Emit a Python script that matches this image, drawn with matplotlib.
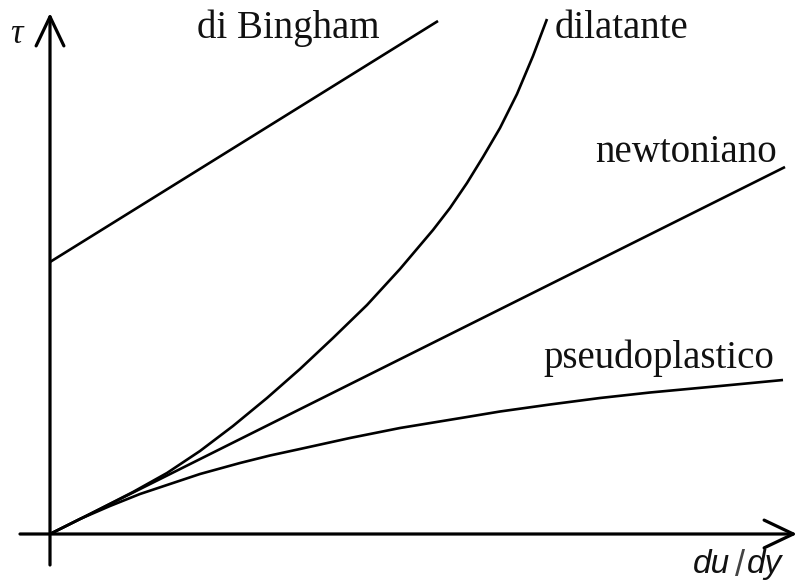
import matplotlib
matplotlib.use("Agg")
import matplotlib.pyplot as plt
from matplotlib.patches import FancyArrowPatch

# Shear stress tau versus shear rate du/dy for four fluid models
bingham_x = [0.0, 3.88]
bingham_y = [2.72, 5.13]

newton_x = [0.0, 7.35]
newton_y = [0.0, 3.67]

dilatant_x = [0.0, 0.40, 0.83, 1.17, 1.50, 1.83, 2.17, 2.50, 2.83, 3.17,
              3.50, 3.83, 4.00, 4.17, 4.33, 4.50, 4.67, 4.83, 4.97]
dilatant_y = [0.0, 0.20, 0.42, 0.61, 0.83, 1.08, 1.36, 1.65, 1.96, 2.29,
              2.65, 3.04, 3.26, 3.51, 3.77, 4.06, 4.40, 4.78, 5.15]

pseudo_x = [0.0, 0.30, 0.60, 0.90, 1.20, 1.50, 1.90, 2.20, 2.50, 3.00,
            3.50, 4.17, 4.50, 5.00, 5.50, 6.00, 6.70, 7.33]
pseudo_y = [0.0, 0.15, 0.28, 0.40, 0.50, 0.60, 0.71, 0.785, 0.85, 0.96,
            1.06, 1.17, 1.225, 1.295, 1.36, 1.415, 1.48, 1.54]

labels = ["di Bingham", "dilatante", "newtoniano", "pseudoplastico"]
label_pos = [(1.47, 4.96), (5.05, 4.96), (5.45, 3.72), (4.93, 1.66)]

fig = plt.figure(figsize=(8.01, 5.85), dpi=100)
ax = fig.add_axes([0, 0, 1, 1])
ax.set_xlim(-0.5, 7.51)
ax.set_ylim(-0.51, 5.34)
ax.axis("off")

lw = 1.9
for xs, ys in [(bingham_x, bingham_y), (newton_x, newton_y),
               (dilatant_x, dilatant_y), (pseudo_x, pseudo_y)]:
    ax.plot(xs, ys, color="black", lw=lw, solid_capstyle="butt",
            solid_joinstyle="round")

# axes with open arrow heads
style = "->,head_length=1.05,head_width=0.5"
ax.add_patch(FancyArrowPatch((0, -0.31), (0, 5.21), arrowstyle=style,
                             mutation_scale=20, lw=2.3, color="black",
                             shrinkA=0, shrinkB=0))
ax.add_patch(FancyArrowPatch((-0.30, 0), (7.47, 0), arrowstyle=style,
                             mutation_scale=20, lw=2.3, color="black",
                             shrinkA=0, shrinkB=0))

serif = "Liberation Serif"
for text, (tx, ty) in zip(labels, label_pos):
    ax.text(tx, ty, text, family=serif, fontsize=28, ha="left",
            va="baseline", color="#111111")

ax.text(-0.34, 4.91, "τ", family=serif, style="italic", fontsize=25,
        ha="center", va="baseline", color="#111111")

sans = "Liberation Sans"
ax.text(6.43, -0.39, "du", family=sans, style="italic", fontsize=24,
        ha="left", va="baseline", color="#111111")
ax.text(6.90, -0.42, "/", family=sans, fontsize=26, ha="center",
        va="baseline", color="#444444", fontweight="light")
ax.text(6.97, -0.39, "dy", family=sans, style="italic", fontsize=24,
        ha="left", va="baseline", color="#111111")

fig.savefig("out.png", dpi=100)
